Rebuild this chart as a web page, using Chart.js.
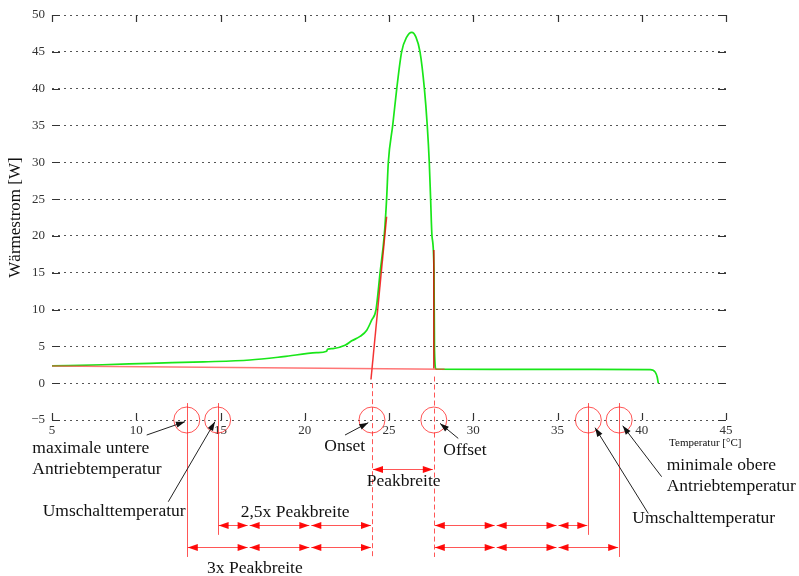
<!DOCTYPE html>
<html>
<head>
<meta charset="utf-8">
<script src="https://cdn.jsdelivr.net/npm/chart.js@4/dist/chart.umd.min.js"></script>
<style>
  html, body { margin: 0; padding: 0; background: #fff; }
  canvas { display: block; }
</style>
</head>
<body>
<canvas id="chartDsc" width="799" height="576"></canvas>
<script>
// Messkurve (grün) – Temperatur [°C] / Wärmestrom [W]
const tempC = [5, 8, 10.8, 14, 16.75, 18.73, 20.7, 21.3, 21.35, 21.67, 22.39, 22.79, 23.28, 23.68, 23.97, 24.23, 24.47, 24.72, 24.86, 24.96, 25.22, 25.46, 25.75, 26.05, 26.35, 26.6, 26.84, 27.1, 27.27, 27.39, 27.47, 27.55, 27.67, 27.7, 27.79, 32, 36, 40.5, 40.8, 40.92, 40.98];
const heatW = [2.35, 2.5, 2.7, 2.9, 3.15, 3.6, 4.14, 4.35, 4.6, 4.7, 5.15, 5.75, 6.35, 7.2, 8.56, 10.0, 15.0, 20.1, 25.1, 30.0, 35.0, 40.0, 45.0, 47.0, 47.65, 47.0, 45.0, 40.0, 35.0, 30.0, 25.0, 20.0, 15.35, 4.5, 1.9, 1.88, 1.87, 1.85, 1.5, 0.8, 0];

// Basislinie und Tangenten (rot)
const baseLine = [[5, 2.35], [28.3, 1.9]];
const onsetTangent = [[23.93, 0.5], [24.86, 22.6]];
const offsetTangent = [[27.66, 18.1], [27.66, 2.0]];

// Achsen
const xTicks = [5, 10, 15, 20, 25, 30, 35, 40, 45];
const yTicks = [-5, 0, 5, 10, 15, 20, 25, 30, 35, 40, 45, 50];

// Markierungen auf der Achse (Kreise) – Temperaturen
const markerT = [13.0, 14.83, 23.99, 27.66, 36.83, 38.66];
// senkrechte Hilfslinien: [T, W oben, W unten, gestrichelt]
const guideLines = [
  [13.0, -2.7, -23.6, false],
  [14.83, -2.7, -20.6, false],
  [23.99, 0.0, -23.6, true],
  [27.66, 0.9, -23.6, true],
  [36.83, -2.7, -20.6, false],
  [38.66, -2.7, -23.6, false],
];
// Doppelpfeile: [T von, T bis, W]
const spanArrows = [
  [23.99, 27.66, -11.7],
  [14.83, 16.67, -19.3], [16.67, 20.33, -19.3], [20.33, 23.99, -19.3],
  [27.66, 31.33, -19.3], [31.33, 35.0, -19.3], [35.0, 36.83, -19.3],
  [13.0, 16.67, -22.3], [16.67, 20.33, -22.3], [20.33, 23.99, -22.3],
  [27.66, 31.33, -22.3], [31.33, 35.0, -22.3], [35.0, 38.66, -22.3],
];
// Zeigerpfeile: [T von, W von, T bis, W bis]
const pointers = [
  [10.62, -7.04, 12.89, -5.23],
  [11.9, -16.1, 14.67, -5.23],
  [22.39, -7.04, 23.77, -5.36],
  [29.11, -7.5, 28.03, -5.46],
  [40.39, -17.7, 37.23, -6.05],
  [41.18, -12.7, 38.87, -5.78],
];
// Beschriftungen: [Text, T links, W Mitte, klein]
const labels = [
  ['maximale untere', 3.83, -8.8, false],
  ['Antriebtemperatur', 3.83, -11.65, false],
  ['Umschalttemperatur', 4.45, -17.48, false],
  ['2,5x Peakbreite', 16.2, -17.6, false],
  ['3x Peakbreite', 14.2, -25.1, false],
  ['Onset', 21.16, -8.62, false],
  ['Peakbreite', 23.68, -13.4, false],
  ['Offset', 28.22, -9.07, false],
  ['Temperatur [°C]', 41.62, -8.16, true],
  ['minimale obere', 41.48, -11.1, false],
  ['Antriebtemperatur', 41.48, -13.96, false],
  ['Umschalttemperatur', 39.44, -18.37, false],
];

const SERIF = '"Liberation Serif", "DejaVu Serif", serif';
const RED = 'rgba(255,30,30,0.75)';
const toPts = (pairs) => pairs.map(([x, y]) => ({ x, y }));

function arrowHead(ctx, x, y, ang, len, half) {
  ctx.beginPath();
  ctx.moveTo(x, y);
  ctx.lineTo(x - len * Math.cos(ang) + half * Math.sin(ang), y - len * Math.sin(ang) - half * Math.cos(ang));
  ctx.lineTo(x - len * Math.cos(ang) - half * Math.sin(ang), y - len * Math.sin(ang) + half * Math.cos(ang));
  ctx.closePath();
  ctx.fill();
}

const annotationPlugin = {
  id: 'dscAnnotations',
  afterDraw(chart) {
    const { ctx, chartArea: a, scales: { x, y } } = chart;
    const px = (v) => x.getPixelForValue(v);
    const py = (v) => y.getPixelForValue(v);
    ctx.save();

    // Achsenstriche innen
    ctx.strokeStyle = '#333';
    ctx.lineWidth = 1.2;
    ctx.beginPath();
    yTicks.forEach((v) => {
      const yy = Math.round(py(v)) + 0.5;
      ctx.moveTo(a.left, yy); ctx.lineTo(a.left + 8, yy);
      ctx.moveTo(a.right - 8, yy); ctx.lineTo(a.right, yy);
    });
    xTicks.forEach((v) => {
      const xx = Math.round(px(v)) + 0.5;
      ctx.moveTo(xx, a.bottom); ctx.lineTo(xx, a.bottom - 7);
      ctx.moveTo(xx, a.top); ctx.lineTo(xx, a.top + 7);
    });
    ctx.stroke();

    // Kreise
    ctx.strokeStyle = RED;
    ctx.lineWidth = 1;
    markerT.forEach((t) => {
      ctx.beginPath();
      ctx.arc(px(t), py(-5), 13, 0, Math.PI * 2);
      ctx.stroke();
    });

    // Hilfslinien
    guideLines.forEach(([t, w1, w2, dashed]) => {
      ctx.setLineDash(dashed ? [5, 3] : []);
      const xx = Math.round(px(t)) + 0.5;
      ctx.beginPath();
      ctx.moveTo(xx, py(w1));
      ctx.lineTo(xx, py(w2));
      ctx.stroke();
    });
    ctx.setLineDash([]);

    // Doppelpfeile
    ctx.fillStyle = 'rgba(255,0,0,0.95)';
    spanArrows.forEach(([t1, t2, w]) => {
      const x1 = px(t1) + 1, x2 = px(t2) - 1, yy = Math.round(py(w)) + 0.5;
      ctx.beginPath();
      ctx.moveTo(x1, yy); ctx.lineTo(x2, yy);
      ctx.stroke();
      arrowHead(ctx, x2, yy, 0, 10, 3.5);
      arrowHead(ctx, x1, yy, Math.PI, 10, 3.5);
    });

    // Zeigerpfeile
    ctx.strokeStyle = '#222';
    ctx.fillStyle = '#111';
    pointers.forEach(([t1, w1, t2, w2]) => {
      const x1 = px(t1), y1 = py(w1), x2 = px(t2), y2 = py(w2);
      ctx.beginPath();
      ctx.moveTo(x1, y1); ctx.lineTo(x2, y2);
      ctx.stroke();
      arrowHead(ctx, x2, y2, Math.atan2(y2 - y1, x2 - x1), 9, 3);
    });

    // Texte
    ctx.fillStyle = '#111';
    ctx.textAlign = 'left';
    ctx.textBaseline = 'middle';
    labels.forEach(([txt, t, w, small]) => {
      ctx.font = (small ? '11px ' : '17.5px ') + SERIF;
      ctx.fillText(txt, px(t), py(w));
    });
    ctx.restore();
  }
};

new Chart(document.getElementById('chartDsc'), {
  type: 'scatter',
  data: {
    datasets: [
      { data: toPts(baseLine), showLine: true, borderColor: 'rgba(255,60,60,0.7)', borderWidth: 1.5, pointRadius: 0 },
      { data: toPts(onsetTangent), showLine: true, borderColor: 'rgba(240,0,0,0.8)', borderWidth: 1.5, pointRadius: 0 },
      { data: toPts(offsetTangent), showLine: true, borderColor: 'rgba(220,0,0,0.85)', borderWidth: 1.5, pointRadius: 0 },
      {
        data: tempC.map((t, i) => ({ x: t, y: heatW[i] })),
        showLine: true,
        borderColor: '#19e619',
        borderWidth: 1.7,
        pointRadius: 0,
        cubicInterpolationMode: 'monotone',
      },
    ],
  },
  options: {
    responsive: false,
    animation: false,
    events: [],
    layout: { padding: { top: 15, right: 73, left: 0, bottom: 0 } },
    plugins: { legend: { display: false }, tooltip: { enabled: false } },
    scales: {
      x: {
        type: 'linear',
        min: 5,
        max: 45,
        afterFit: (s) => { s.height = 156; },
        afterBuildTicks: (s) => { s.ticks = xTicks.map((v) => ({ value: v })); },
        grid: { display: false, drawTicks: false },
        border: { display: false },
        ticks: { autoSkip: false, maxRotation: 0, padding: 3, color: '#333', font: { family: SERIF, size: 13 } },
      },
      y: {
        min: -5,
        max: 50,
        afterFit: (s) => { s.width = 52; },
        afterBuildTicks: (s) => { s.ticks = yTicks.map((v) => ({ value: v })); },
        grid: { color: '#555', lineWidth: 1, drawTicks: false },
        border: { display: false, dash: [2, 4] },
        ticks: {
          padding: 7,
          color: '#333',
          font: { family: SERIF, size: 13 },
          callback: (v) => String(v).replace('-', '\u2212'),
        },
        title: { display: true, text: 'Wärmestrom [W]', color: '#111', font: { family: SERIF, size: 17 }, padding: { top: 5, bottom: 0 } },
      },
    },
  },
  plugins: [annotationPlugin],
});
</script>
</body>
</html>
